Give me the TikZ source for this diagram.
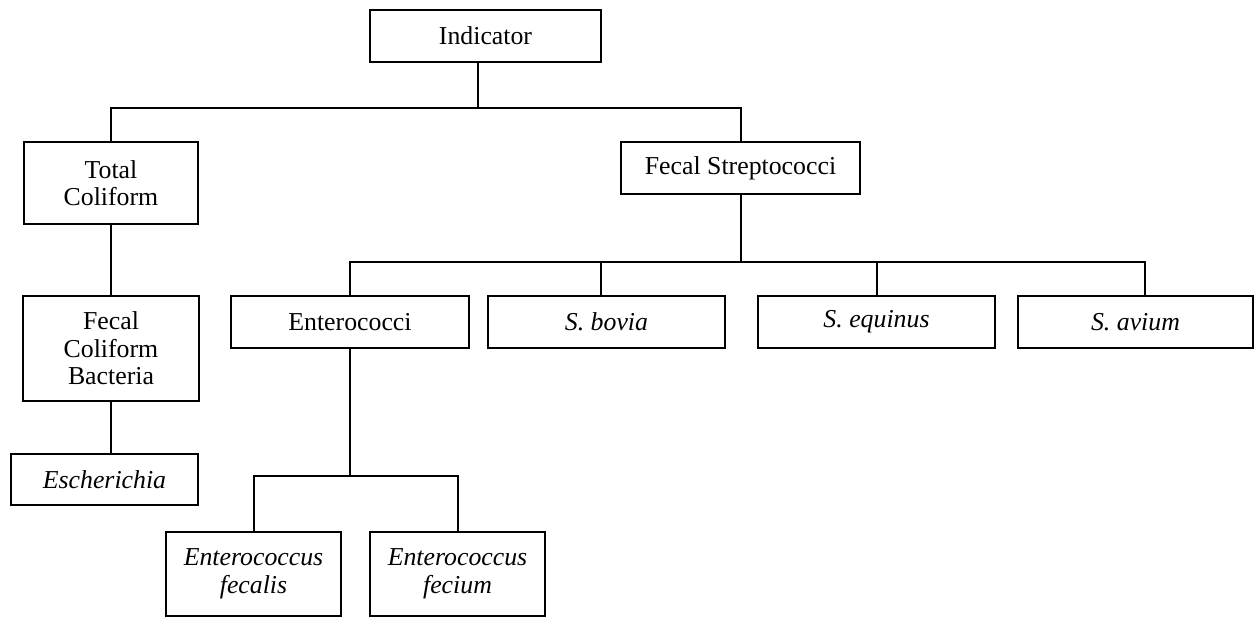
\documentclass[tikz,border=0pt]{standalone}
\usepackage{fontspec}
\setmainfont{Liberation Serif}
\usetikzlibrary{positioning}

\begin{document}
\begin{tikzpicture}[x=0.5pt, y=-0.5pt, every node/.style={font=\fontsize{12.9}{13.8}\selectfont}]
\tikzset{taxon/.style 2 args={draw, line width=1pt, inner sep=0pt, align=center, minimum width=#1*0.5pt, minimum height=#2*0.5pt}}
\useasboundingbox (0,0) rectangle (1254,618);
% levels
\node[taxon={231}{52}] (ind) at (485.5,36) {Indicator};
\node[taxon={174}{82}] (tc) at (111,183) {Total\\Coliform};
\node[taxon={239}{52}] (fs) at (740.5,168) {Fecal Streptococci};
\node[taxon={176}{105}] (fcb) at (111,348.5) {Fecal\\Coliform\\Bacteria};
\node[taxon={187}{51}] (esch) at (104.5,479.5) {\itshape Escherichia};
\node[taxon={238}{52}] (ent) at (350,322) {Enterococci};
\node[taxon={237}{52}] (bov) at (606.5,322) {\itshape S. bovia};
\node[taxon={237}{52}] (equ) at (876.5,322) {\itshape S. equinus};
\node[taxon={235}{52}] (avi) at (1135.5,322) {\itshape S. avium};
\node[taxon={175}{84}] (efa) at (253.5,574) {\itshape Enterococcus\\\itshape fecalis};
\node[taxon={175}{84}] (efe) at (457.5,574) {\itshape Enterococcus\\\itshape fecium};
% branches
\coordinate (top) at (478,108);
\coordinate (row) at (0,262);
\coordinate (sub) at (0,476);
\coordinate (bovin) at ([xshift=-2.75pt]bov.north);
\coordinate (aviin) at ([xshift=4.75pt]avi.north);
\begin{scope}[line width=1pt]
\draw (ind.south -| top) -- (top);
\draw (tc.north) |- (fs.north |- top) -- (fs.north);
\draw (tc.south) -- (fcb.north);
\draw (fcb.south) -- (fcb.south |- esch.north);
\draw (fs.south) -- (fs.south |- row);
\draw (ent.north) |- (aviin |- row) -- (aviin);
\draw (bovin) -- (bovin |- row);
\draw (equ.north) -- (equ.north |- row);
\draw (ent.south) -- (ent.south |- sub);
\draw (efa.north) |- (efe.north |- sub) -- (efe.north);
\end{scope}
\end{tikzpicture}
\end{document}
